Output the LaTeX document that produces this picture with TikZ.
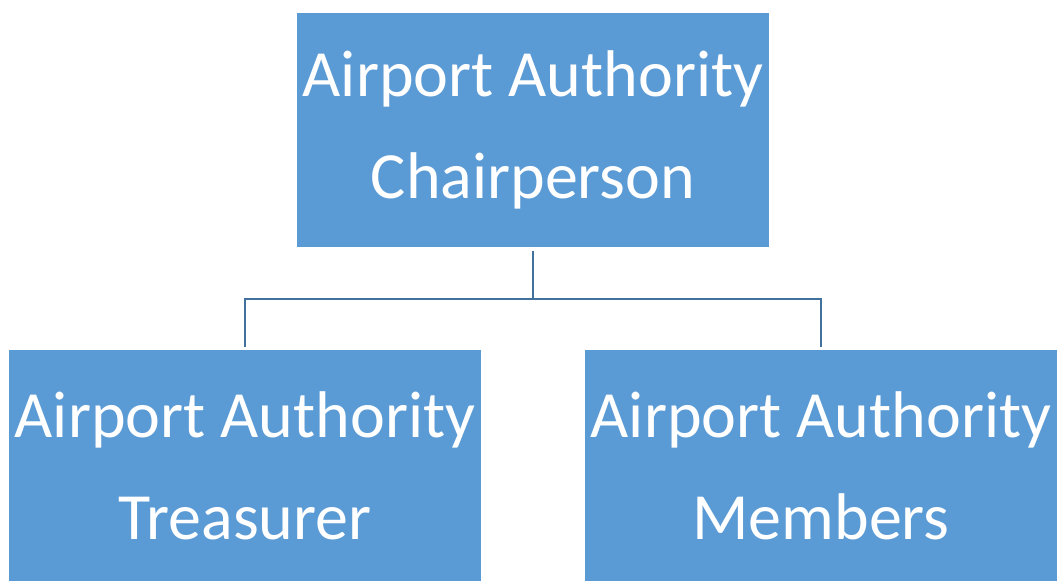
\documentclass[tikz,border=0pt]{standalone}
\usepackage{fontspec}
\setmainfont{Carlito}
\usepackage{tikz}
\usetikzlibrary{positioning}

\definecolor{boxblue}{HTML}{5B9BD5}
\definecolor{lineblue}{HTML}{41719C}

\begin{document}
\begin{tikzpicture}[x=1pt, y=-1pt]
    % Define styles
    \tikzset{role/.style={fill=boxblue, draw=none, text=white, inner sep=0pt, outer sep=3.5pt,
        minimum width=472pt, align=center,
        font=\fontsize{66}{102}\selectfont}}
    \tikzset{link/.style={draw=lineblue, line width=2pt}}

    % Canvas
    \useasboundingbox (0,0) rectangle (1057,581);

    % Draw roles
    \node[role, minimum height=234pt] (chair) at (533,130) {Airport Authority\\Chairperson};
    \node[role, minimum height=231pt] (treasurer) at (245,465.5) {Airport Authority\\Treasurer};
    \node[role, minimum height=231pt] (members) at (821,465.5) {Airport Authority\\Members};

    % Connect roles
    \coordinate (fork) at (533,299);
    \draw[link] (chair) -- (fork);
    \draw[link] (fork) -| (treasurer);
    \draw[link] (fork) -| (members);

\end{tikzpicture}
\end{document}
